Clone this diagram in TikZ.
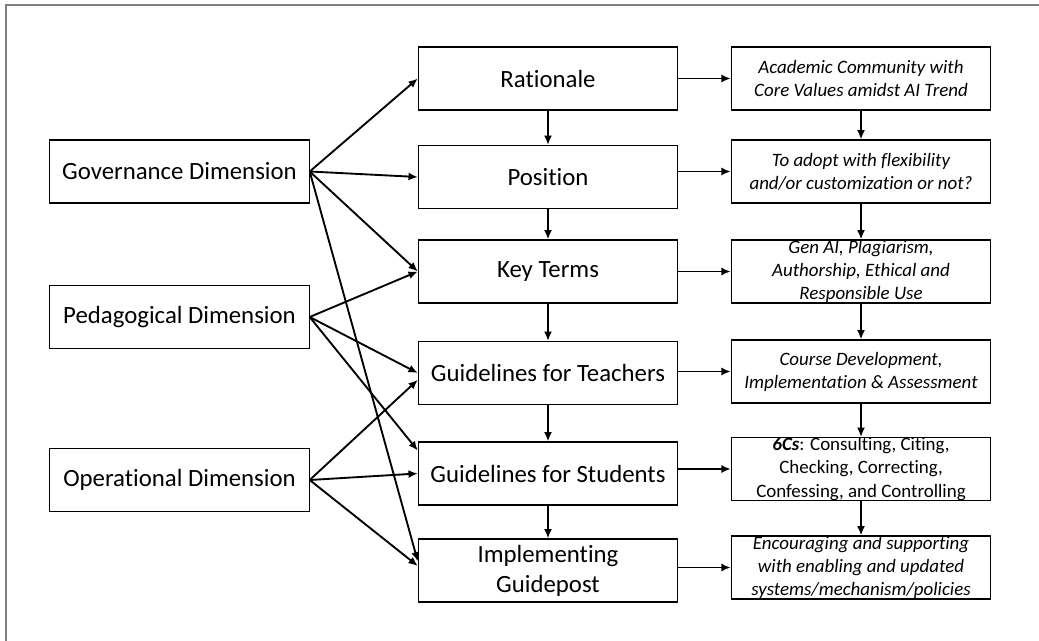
\documentclass[tikz,border=0pt]{standalone}
\usepackage{fontspec}
\setmainfont{Carlito}[Ligatures=NoCommon]
\usetikzlibrary{arrows.meta}
\tikzset{
    	every node/.append style={font=\fontsize{18.6}{22.5}\selectfont}}

\begin{document}
\begin{tikzpicture}
  [x=0.75pt,y=-0.75pt,>={Latex[length=7pt,width=6pt]},
  	box/.style={draw,line width=0.8pt,inner sep=0pt,minimum width=194.5pt,
  		minimum height=47.25pt,align=center},
  	note/.style={box,font=\fontsize{14.2}{17.3}\selectfont\itshape},
  	link/.style={->,line width=1.4pt}
  ]
  \useasboundingbox (0,0) rectangle (1039,641);
  \draw [gray,line width=1.5pt] (6,5) rectangle (1060,660);

  \node [box] (g1) at (179.5,171.5) {Governance Dimension};
  \node [box] (g2) at (179.5,317) {Pedagogical Dimension};
  \node [box] (g3) at (179.5,480) {Operational Dimension};
  \node [box] (m1) at (548,78.5) {Rationale};
  \node [box] (m2) at (548,177) {Position};
  \node [box] (m3) at (548,271.5) {Key Terms};
  \node [box] (m4) at (548,373) {Guidelines for Teachers};
  \node [box] (m5) at (548,473.5) {Guidelines for Students};
  \node [box] (m6) at (548,570.5) {Implementing\\Guidepost};
  \node [note] (r1) at (861,78.5) {Academic Community with\\Core Values amidst AI Trend};
  \node [note] (r2) at (861,171.5) {To adopt with flexibility\\and/or customization or not?};
  \node [note] (r3) at (861,271.5) {Gen AI, Plagiarism,\\Authorship, Ethical and\\Responsible Use};
  \node [note] (r4) at (861,371.5) {Course Development,\\Implementation \& Assessment};
  \node [note,font=\fontsize{14.2}{17.3}\selectfont] (r5) at (861,469)
  	{\textbf{\textit{6Cs}}: Consulting, Citing,\\Checking, Correcting,\\Confessing, and Controlling};
  \node [note] (r6) at (861,567.5) {Encouraging and supporting\\with enabling and updated\\systems/mechanism/policies};

  \foreach \from/\to in {g1.east/m1.west,g1.east/m2.west,g1.east/m3.west,g1.east/m6.176,
  	g2.east/m3.west,g2.east/m4.west,g2.east/m5.170,
  	g3.east/m4.183,g3.east/m5.west,g3.east/m6.178}
    \draw[link] (\from) -- (\to);

  \foreach \i/\j in {1/2,2/3,3/4,4/5,5/6}{
    \draw[link] (m\i.south) -- (m\j.north);
    \draw[link] (r\i.south) -- (r\j.north);}

  \foreach \i in {1,...,6}
    \draw[link] (m\i.east |- r\i.west) -- (r\i.west);
\end{tikzpicture}
\end{document}
